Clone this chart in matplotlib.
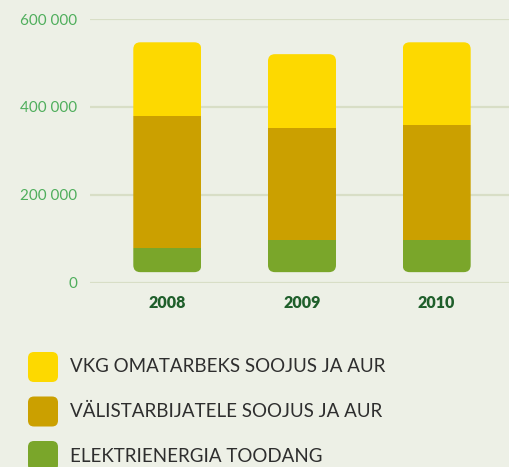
import matplotlib
matplotlib.use("Agg")
import matplotlib.pyplot as plt
from matplotlib.patches import FancyBboxPatch
import numpy as np

# ---------------------------------------------------------------------------
# Data
# ---------------------------------------------------------------------------
years = ["2008", "2009", "2010"]
series_names = [
    "VKG OMATARBEKS SOOJUS JA AUR",
    "VÄLISTARBIJATELE SOOJUS JA AUR",
    "ELEKTRIENERGIA TOODANG",
]
electricity = [80000, 98000, 98000]
external_heat = [299000, 254000, 261000]
own_heat = [168000, 168000, 188000]
y_ticks = [0, 200000, 400000, 600000]
y_tick_labels = ["0", "200 000", "400 000", "600 000"]

# ---------------------------------------------------------------------------
# Style
# ---------------------------------------------------------------------------
BG = "#edf0e6"
GRID = "#d8dec6"
C_OWN = "#fdd900"
C_EXT = "#cba000"
C_ELEC = "#7aa62a"
TICK_GREEN = "#4fae5c"
YEAR_GREEN = "#1f5f2b"
TEXT_DARK = "#2e2e2e"
colors = [C_OWN, C_EXT, C_ELEC]

plt.rcParams["font.family"] = ["Lato", "DejaVu Sans"]

W, H = 509, 467
fig = plt.figure(figsize=(W / 100, H / 100), dpi=100, facecolor=BG)

# axes placed in pixel terms
ax_left, ax_right, ax_top, ax_bottom = 90, 509, 19, 282.7
ax = fig.add_axes([ax_left / W, 1 - ax_bottom / H,
                   (ax_right - ax_left) / W, (ax_bottom - ax_top) / H])
ax.set_facecolor(BG)
xlim = (-0.574, 2.537)
ylim = (0, 600000)
ax.set_xlim(*xlim)
ax.set_ylim(*ylim)

for s in ax.spines.values():
    s.set_visible(False)
ax.set_yticks(y_ticks)
ax.set_yticklabels(y_tick_labels, color=TICK_GREEN, fontsize=11)
ax.tick_params(axis="y", length=0, pad=9)
ax.grid(axis="y", color=GRID, linewidth=1.6)
ax.set_axisbelow(True)

x = np.arange(len(years))
ax.set_xticks(x)
ax.set_xticklabels(years, color=YEAR_GREEN, fontsize=11.5, fontweight="heavy")
ax.tick_params(axis="x", length=0, pad=9)

width = 0.505
elec = np.array(electricity)
ext = np.array(external_heat)
own = np.array(own_heat)
totals = elec + ext + own

b1 = ax.bar(x, elec, width, color=C_ELEC, zorder=3)
b2 = ax.bar(x, ext, width, bottom=elec, color=C_EXT, zorder=3)
b3 = ax.bar(x, own, width, bottom=elec + ext, color=C_OWN, zorder=3)

# rounded clip for each stacked column
px_per_x = (ax_right - ax_left) / (xlim[1] - xlim[0])
px_per_y = (ax_bottom - ax_top) / (ylim[1] - ylim[0])
r_px = 7
r_x = r_px / px_per_x
r_y = r_px / px_per_y
floor = 24000  # columns visually float slightly above the baseline
for i in range(len(years)):
    clip = FancyBboxPatch((x[i] - width / 2, floor), width, totals[i] - floor,
                          boxstyle=f"round,pad=0,rounding_size={r_x}",
                          mutation_aspect=r_y / r_x, transform=ax.transData)
    for bars in (b1, b2, b3):
        bars[i].set_clip_path(clip)

# ---------------------------------------------------------------------------
# Legend drawn in pixel coordinates
# ---------------------------------------------------------------------------
lax = fig.add_axes([0, 0, 1, 1], facecolor="none")
lax.set_xlim(0, W)
lax.set_ylim(H, 0)
lax.axis("off")
row_centers = [367, 411.5, 456]
sq = 30
for name, col, yc in zip(series_names, colors, row_centers):
    lax.add_patch(FancyBboxPatch((28, yc - sq / 2), sq, sq,
                                 boxstyle="round,pad=0,rounding_size=6",
                                 facecolor=col, edgecolor="none"))
    lax.text(70, yc, name, fontsize=13.5, color=TEXT_DARK, fontweight="normal",
             va="center", ha="left")

fig.savefig("out.png", dpi=100, facecolor=BG)
